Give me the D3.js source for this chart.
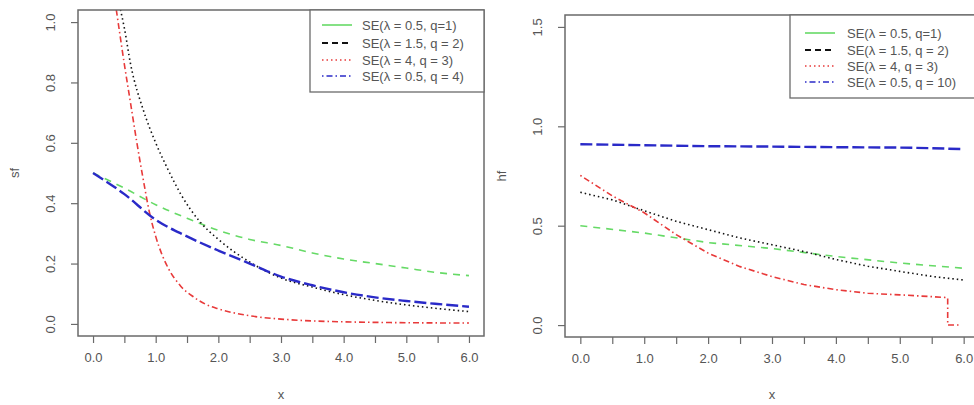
<!DOCTYPE html>
<html>
<head>
<meta charset="utf-8">
<script src="https://cdn.jsdelivr.net/npm/d3@7"></script>
<style>
  body { margin: 0; background: #fff; }
  svg { display: block; font-family: "Liberation Sans", Arial, sans-serif; }
</style>
</head>
<body>
<div id="chart"></div>
<script>
// ---- data ----
// left panel: survival function sf
const sfGreenX = [0, 0.5, 1, 1.5, 2, 2.5, 3, 3.5, 4, 4.5, 5, 5.5, 6];
const sfGreenY = [0.5, 0.45, 0.395, 0.35, 0.31, 0.28, 0.26, 0.235, 0.215, 0.2, 0.185, 0.17, 0.16];
const sfBlackX = [0.38, 0.45, 0.5, 0.6, 0.8, 1.0, 1.2, 1.4, 1.7, 2.0, 2.5, 3, 3.5, 4, 4.5, 5, 5.5, 6];
const sfBlackY = [1.1, 1.03, 0.98, 0.86, 0.71, 0.6, 0.51, 0.43, 0.34, 0.28, 0.205, 0.152, 0.122, 0.097, 0.078, 0.063, 0.051, 0.041];
const sfRedX = [0.33, 0.4, 0.5, 0.6, 0.7, 0.8, 0.9, 1.0, 1.1, 1.2, 1.4, 1.6, 1.8, 2.0, 2.5, 3, 3.5, 4, 5, 6];
const sfRedY = [1.1, 1.0, 0.86, 0.73, 0.6, 0.48, 0.37, 0.29, 0.23, 0.185, 0.125, 0.09, 0.065, 0.05, 0.027, 0.016, 0.01, 0.007, 0.004, 0.003];
const sfBlueX = [0, 0.5, 1, 1.5, 2, 2.5, 3, 3.5, 4, 4.5, 5, 5.5, 6];
const sfBlueY = [0.5, 0.43, 0.345, 0.29, 0.243, 0.2, 0.157, 0.128, 0.105, 0.088, 0.076, 0.066, 0.057];

// right panel: hazard function hf
const hfBlueX = [0, 1, 2, 3, 4, 5, 5.5, 6];
const hfBlueY = [0.91, 0.905, 0.9, 0.898, 0.895, 0.893, 0.89, 0.885];
const hfGreenX = [0, 1, 2, 3, 4, 5, 6];
const hfGreenY = [0.5, 0.463, 0.415, 0.385, 0.345, 0.312, 0.286];
const hfBlackX = [0, 0.5, 1, 1.5, 2, 2.5, 3, 3.5, 4, 4.5, 5, 5.5, 6];
const hfBlackY = [0.668, 0.63, 0.575, 0.522, 0.48, 0.438, 0.404, 0.37, 0.33, 0.296, 0.27, 0.245, 0.227];
const hfRedX = [0, 0.5, 1, 1.5, 2, 2.5, 3, 3.5, 4, 4.5, 5, 5.5, 5.75, 5.75, 5.92];
const hfRedY = [0.753, 0.65, 0.565, 0.455, 0.362, 0.294, 0.244, 0.204, 0.178, 0.16, 0.152, 0.143, 0.138, 0, 0];

const xTicks = [0, 0.5, 1, 1.5, 2, 2.5, 3, 3.5, 4, 4.5, 5, 5.5, 6];
const xTickLabels = ['0.0', '', '1.0', '', '2.0', '', '3.0', '', '4.0', '', '5.0', '', '6.0'];
const sfTicks = [0, 0.2, 0.4, 0.6, 0.8, 1.0];
const hfTicks = [0, 0.5, 1.0, 1.5];
const sfLegend = ['SE(λ = 0.5, q=1)', 'SE(λ = 1.5, q = 2)', 'SE(λ = 4, q = 3)', 'SE(λ = 0.5, q = 4)'];
const hfLegend = ['SE(λ = 0.5, q=1)', 'SE(λ = 1.5, q = 2)', 'SE(λ = 4, q = 3)', 'SE(λ = 0.5, q = 10)'];

// styles
const GREEN = '#66da66', BLACK = '#111', RED = '#e83a3a', BLUE = '#2a2ac8';
const AXIS = '#6a6a6a', TEXT = '#555';

const width = 974, height = 405;
const svg = d3.select('#chart').append('svg')
  .attr('width', width).attr('height', height)
  .attr('viewBox', `0 0 ${width} ${height}`);

const zip = (xs, ys) => xs.map((x, i) => [x, ys[i]]);

const panels = [
  {
    id: 'sf', box: [78, 10, 484, 336], yDomain: [-0.04, 1.04], yTicks: sfTicks, ylab: 'sf',
    curve: d3.curveMonotoneX,
    series: [
      { pts: zip(sfGreenX, sfGreenY), color: GREEN, w: 1.6, dash: '7,6' },
      { pts: zip(sfBlackX, sfBlackY), color: BLACK, w: 1.6, dash: '1.5,3' },
      { pts: zip(sfRedX, sfRedY), color: RED, w: 1.6, dash: '1.5,3,6,3' },
      { pts: zip(sfBlueX, sfBlueY), color: BLUE, w: 2.4, dash: '12,4' }
    ],
    legend: { box: [310, 10, 484, 92], rows: [25, 43, 60, 76], line: [322, 352], text: 362, labels: sfLegend }
  },
  {
    id: 'hf', box: [565, 15, 979, 337], yDomain: [-0.06, 1.56], yTicks: hfTicks, ylab: 'hf',
    curve: d3.curveLinear,
    series: [
      { pts: zip(hfGreenX, hfGreenY), color: GREEN, w: 1.6, dash: '7,6' },
      { pts: zip(hfBlackX, hfBlackY), color: BLACK, w: 1.6, dash: '1.5,3' },
      { pts: zip(hfRedX, hfRedY), color: RED, w: 1.6, dash: '1.5,3,6,3' },
      { pts: zip(hfBlueX, hfBlueY), color: BLUE, w: 2.4, dash: '12,4' }
    ],
    legend: { box: [790, 15, 985, 98], rows: [33, 50, 66, 82], line: [805, 835], text: 847, labels: hfLegend }
  }
];

// legend sample styles (as drawn in the reference)
const legendStyles = [
  { color: GREEN, w: 1.6, dash: null },
  { color: BLACK, w: 1.8, dash: '6,4' },
  { color: RED, w: 1.4, dash: '1.5,3' },
  { color: BLUE, w: 1.6, dash: '1.5,3,6,3' }
];

panels.forEach(p => {
  const [x0, y0, x1, y1] = p.box;
  const x = d3.scaleLinear().domain([-0.24, 6.24]).range([x0, x1]);
  const y = d3.scaleLinear().domain(p.yDomain).range([y1, y0]);
  const g = svg.append('g');

  g.append('clipPath').attr('id', 'clip-' + p.id)
    .append('rect').attr('x', x0).attr('y', y0).attr('width', x1 - x0).attr('height', y1 - y0);

  // curves
  const line = d3.line().x(d => x(d[0])).y(d => y(d[1])).curve(p.curve);
  g.append('g').attr('clip-path', `url(#clip-${p.id})`)
    .selectAll('path').data(p.series).join('path')
    .attr('d', d => line(d.pts))
    .attr('fill', 'none')
    .attr('stroke', d => d.color)
    .attr('stroke-width', d => d.w)
    .attr('stroke-dasharray', d => d.dash);

  // x axis
  const xAxis = d3.axisBottom(x).tickValues(xTicks).tickSize(7).tickPadding(10)
    .tickFormat((d, i) => xTickLabels[i]);
  const gx = g.append('g').attr('transform', `translate(0,${y1})`).call(xAxis);
  gx.select('.domain').remove();

  // y axis
  const yAxis = d3.axisLeft(y).tickValues(p.yTicks).tickSize(7).tickFormat(d3.format('.1f'));
  const gy = g.append('g').attr('transform', `translate(${x0},0)`).call(yAxis);
  gy.select('.domain').remove();
  gy.selectAll('.tick text')
    .attr('transform', 'rotate(-90)')
    .attr('x', 0).attr('y', -28)
    .attr('dy', '0.35em')
    .attr('text-anchor', 'middle');

  [gx, gy].forEach(a => {
    a.selectAll('.tick line').attr('stroke', AXIS).attr('stroke-width', 1.2);
    a.selectAll('.tick text').attr('fill', TEXT).style('font-size', '13px');
  });

  // box
  g.append('rect').attr('x', x0).attr('y', y0).attr('width', x1 - x0).attr('height', y1 - y0)
    .attr('fill', 'none').attr('stroke', AXIS).attr('stroke-width', 1.5);

  // axis titles
  g.append('text').attr('x', x(3)).attr('y', 399).attr('text-anchor', 'middle')
    .attr('fill', TEXT).style('font-size', '13px').text('x');
  g.append('text').attr('transform', `translate(${x0 - 59},${(y0 + y1) / 2}) rotate(-90)`)
    .attr('text-anchor', 'middle').attr('fill', TEXT).style('font-size', '13px').text(p.ylab);

  // legend
  const L = p.legend;
  g.append('rect').attr('x', L.box[0]).attr('y', L.box[1])
    .attr('width', L.box[2] - L.box[0]).attr('height', L.box[3] - L.box[1])
    .attr('fill', '#fff').attr('stroke', AXIS).attr('stroke-width', 1.3);
  const rows = g.append('g').selectAll('g').data(L.labels).join('g')
    .attr('transform', (d, i) => `translate(0,${L.rows[i]})`);
  rows.append('line').attr('x1', L.line[0]).attr('x2', L.line[1])
    .attr('stroke', (d, i) => legendStyles[i].color)
    .attr('stroke-width', (d, i) => legendStyles[i].w)
    .attr('stroke-dasharray', (d, i) => legendStyles[i].dash);
  rows.append('text').attr('x', L.text).attr('dy', '0.35em')
    .attr('fill', TEXT).style('font-size', '13px').text(d => d);
});
</script>
</body>
</html>
